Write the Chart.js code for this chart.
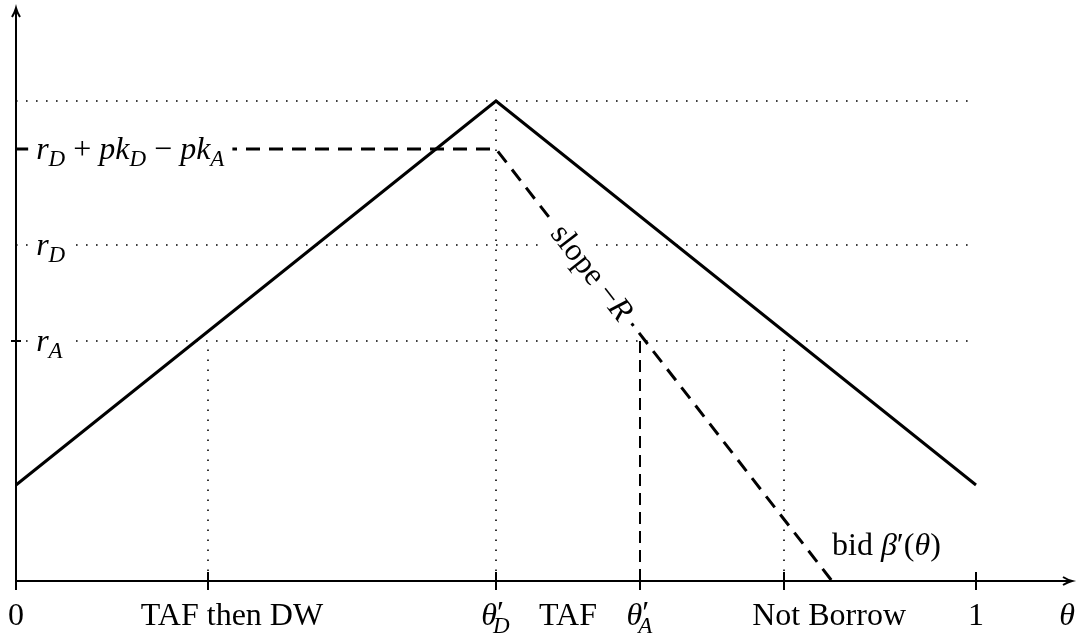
<!DOCTYPE html>
<html>
<head>
<meta charset="utf-8">
<script src="https://cdn.jsdelivr.net/npm/chart.js@4"></script>
<style>
  body { margin: 0; background: #fff; }
  canvas { display: block; }
</style>
</head>
<body>
<canvas id="bidChart" width="1082" height="641"></canvas>
<script>
// Curves (theta on x, rate on y)
const solidX = [0, 0.5, 1];
const solidY = [0.2, 1, 0.2];
const bidX = [0, 0.5, 0.85];
const bidY = [0.9, 0.9, 0];

// Horizontal dotted levels: peak, r_D, r_A
const levelY = [1, 0.7, 0.5];

// Vertical guides
const guideX = [0.2, 0.5, 0.8];
const guideTop = [0.5, 1, 0.5];
const thetaA = 0.65;
const thetaATop = 0.5;

// Axis ticks and labels
const xTicks = [0, 0.2, 0.5, 0.65, 0.8, 1];
const xMax = 1.1;
const yMax = 1.19375;

const FONT = '"Liberation Serif", "DejaVu Serif", serif';
const BIG = 32, SMALL = 23;

// label pieces: t = text, i = italic, s = subscript, p = prime with subscript under it
const xLabels = [
    { x: 0, runs: [{ t: '0' }] },
    { x: 0.225, runs: [{ t: 'TAF then DW' }] },
    { x: 0.5, runs: [{ t: 'θ', i: 1 }, { t: '′', p: 'D' }] },
    { x: 0.575, runs: [{ t: 'TAF' }] },
    { x: 0.65, runs: [{ t: 'θ', i: 1 }, { t: '′', p: 'A' }] },
    { x: 0.847, runs: [{ t: 'Not Borrow' }] },
    { x: 1, runs: [{ t: '1' }] },
    { x: 1.095, runs: [{ t: 'θ', i: 1 }] }
];
const yLabels = [
    { y: 0.9, runs: [{ t: 'r', i: 1 }, { t: 'D', i: 1, s: 1 }, { t: ' + ' }, { t: 'pk', i: 1 }, { t: 'D', i: 1, s: 1 },
        { t: ' − ' }, { t: 'pk', i: 1 }, { t: 'A', i: 1, s: 1 }] },
    { y: 0.7, runs: [{ t: 'r', i: 1 }, { t: 'D', i: 1, s: 1 }] },
    { y: 0.5, runs: [{ t: 'r', i: 1 }, { t: 'A', i: 1, s: 1 }] }
];

function pts(xs, ys) {
    return xs.map((x, i) => ({ x: x, y: ys[i] }));
}

function setFont(ctx, run, small) {
    ctx.font = (run.i ? 'italic ' : '') + (small ? SMALL : BIG) + 'px ' + FONT;
}

function runWidth(ctx, run) {
    if (run.p) {
        setFont(ctx, {}, false);
        const w1 = ctx.measureText(run.t).width;
        setFont(ctx, { i: 1 }, true);
        const w2 = ctx.measureText(run.p).width;
        return Math.max(w1, w2 - 3);
    }
    setFont(ctx, run, run.s);
    return ctx.measureText(run.t).width;
}

function drawRuns(ctx, runs, x, base, align, bg) {
    const widths = runs.map(r => runWidth(ctx, r));
    const total = widths.reduce((a, b) => a + b, 0);
    let cx = align === 'center' ? x - total / 2 : x;
    if (bg) {
        ctx.fillStyle = '#fff';
        ctx.fillRect(cx - 8, base - 26, total + 16, 36);
    }
    ctx.fillStyle = '#000';
    ctx.textBaseline = 'alphabetic';
    ctx.textAlign = 'left';
    runs.forEach((r, k) => {
        if (r.p) {
            setFont(ctx, {}, false);
            ctx.fillText(r.t, cx, base - 2);
            setFont(ctx, { i: 1 }, true);
            ctx.fillText(r.p, cx - 4, base + 8);
        } else if (r.s) {
            setFont(ctx, r, true);
            ctx.fillText(r.t, cx, base + 7);
        } else {
            setFont(ctx, r, false);
            ctx.fillText(r.t, cx, base);
        }
        cx += widths[k];
    });
}

const annotations = {
    id: 'annotations',
    afterDatasetsDraw(chart) {
        const { ctx, scales: { x, y } } = chart;
        const x0 = x.getPixelForValue(0), y0 = y.getPixelForValue(0);
        ctx.save();
        ctx.strokeStyle = '#000';
        ctx.lineWidth = 2;

        // arrow heads
        const xt = x.getPixelForValue(xMax), yt = y.getPixelForValue(yMax);
        ctx.beginPath();
        ctx.moveTo(xt - 9, y0 - 4); ctx.quadraticCurveTo(xt - 4, y0 - 1, xt, y0);
        ctx.quadraticCurveTo(xt - 4, y0 + 1, xt - 9, y0 + 4);
        ctx.moveTo(x0 - 4, yt + 9); ctx.quadraticCurveTo(x0 - 1, yt + 4, x0, yt);
        ctx.quadraticCurveTo(x0 + 1, yt + 4, x0 + 4, yt + 9);
        ctx.stroke();

        // x ticks
        ctx.beginPath();
        xTicks.forEach(v => {
            const px = x.getPixelForValue(v);
            ctx.moveTo(px, y0 - 9); ctx.lineTo(px, y0 + 9);
        });
        // y tick at r_A
        const pyA = y.getPixelForValue(0.5);
        ctx.moveTo(x0 - 5, pyA); ctx.lineTo(x0 + 5, pyA);
        ctx.stroke();

        // x labels
        xLabels.forEach(l => drawRuns(ctx, l.runs, x.getPixelForValue(l.x), y0 + 44, 'center', false));

        // y labels with white background over the guide lines
        yLabels.forEach(l => drawRuns(ctx, l.runs, x.getPixelForValue(0.021), y.getPixelForValue(l.y) + 10, 'left', true));

        // slope label along the bid line
        const ax = x.getPixelForValue(bidX[1]), ay = y.getPixelForValue(bidY[1]);
        const bx = x.getPixelForValue(bidX[2]), by = y.getPixelForValue(bidY[2]);
        const ang = Math.atan2(by - ay, bx - ax);
        const mx = x.getPixelForValue(0.6), my = ay + (mx - ax) * Math.tan(ang);
        ctx.translate(mx, my);
        ctx.rotate(ang);
        drawRuns(ctx, [{ t: 'slope −' }, { t: 'R', i: 1 }], 0, 10, 'center', true);
        ctx.setTransform(1, 0, 0, 1, 0, 0);

        drawRuns(ctx, [{ t: 'bid ' }, { t: 'β', i: 1 }, { t: '′(' }, { t: 'θ', i: 1 }, { t: ')' }],
            x.getPixelForValue(0.85), y.getPixelForValue(0.055), 'left', false);
        ctx.restore();
    }
};

const dotted = { borderColor: '#000', borderWidth: 1.6, borderDash: [1.6, 8.4] };
const datasets = [
    { data: pts(solidX, solidY), borderColor: '#000', borderWidth: 3 },
    { data: pts(bidX, bidY), borderColor: '#000', borderWidth: 3, borderDash: [14, 9] },
    { data: [{ x: thetaA, y: 0 }, { x: thetaA, y: thetaATop }], borderColor: '#000', borderWidth: 2, borderDash: [12, 7] },
    { data: [{ x: 0, y: 0 }, { x: xMax, y: 0 }], borderColor: '#000', borderWidth: 2 },
    { data: [{ x: 0, y: 0 }, { x: 0, y: yMax }], borderColor: '#000', borderWidth: 2 }
];
levelY.forEach(v => datasets.push(Object.assign({ data: [{ x: 0, y: v }, { x: 1, y: v }] }, dotted)));
guideX.forEach((v, i) => datasets.push(Object.assign({ data: [{ x: v, y: 0 }, { x: v, y: guideTop[i] }] }, dotted)));
datasets.forEach(d => { d.showLine = true; d.pointRadius = 0; d.clip = false; d.fill = false; });

new Chart(document.getElementById('bidChart').getContext('2d'), {
    type: 'scatter',
    data: { datasets: datasets },
    options: {
        responsive: false,
        animation: false,
        layout: { padding: { left: 16, right: 10, top: 8, bottom: 60 } },
        plugins: { legend: { display: false }, tooltip: { enabled: false } },
        scales: {
            x: { type: 'linear', min: 0, max: xMax, display: false },
            y: { type: 'linear', min: 0, max: yMax, display: false }
        }
    },
    plugins: [annotations]
});
</script>
</body>
</html>
